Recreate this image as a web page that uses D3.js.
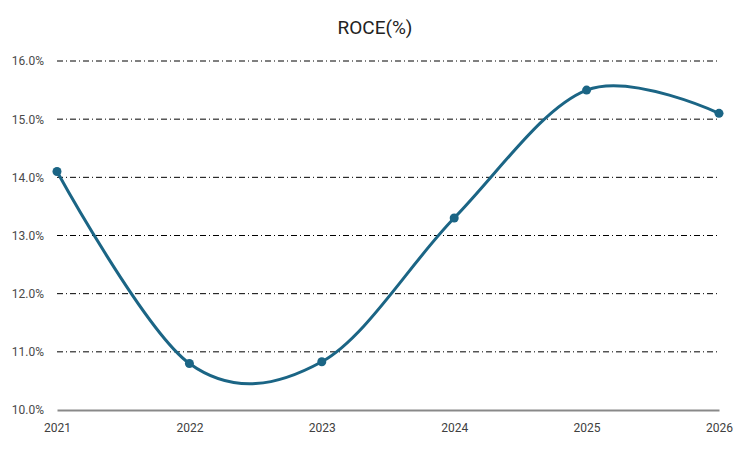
<!DOCTYPE html>
<html>
<head>
<meta charset="utf-8">
<script src="https://cdn.jsdelivr.net/npm/d3@7"></script>
<style>
  body { margin: 0; background: #fff; }
  svg { font-family: "Roboto", sans-serif; }
</style>
</head>
<body>
<svg id="chart"></svg>
<script>
// chart data
const years = ["2021", "2022", "2023", "2024", "2025", "2026"];
const roce = [14.1, 10.8, 10.83, 13.3, 15.5, 15.1];
const yTicks = [10, 11, 12, 13, 14, 15, 16];

const width = 750, height = 450;
const margin = {top: 61, right: 31, bottom: 40, left: 57};
const innerW = width - margin.left - margin.right;
const innerH = height - margin.top - margin.bottom;

const svg = d3.select('#chart')
    .attr('width', width)
    .attr('height', height);

const chart = svg.append('g')
    .attr('transform', `translate(${margin.left}, ${margin.top})`);

const xScale = d3.scalePoint()
    .domain(years)
    .range([0, innerW]);

const yScale = d3.scaleLinear()
    .domain([10, 16])
    .range([innerH, 0]);

// title
svg.append('text')
    .attr('x', 375)
    .attr('y', 34)
    .attr('text-anchor', 'middle')
    .attr('font-size', 19)
    .attr('fill', '#222')
    .text('ROCE(%)');

// gridlines (dash-dot)
chart.selectAll('.grid')
    .data(yTicks.filter(d => d > 10))
    .join('line')
    .attr('class', 'grid')
    .attr('x1', 0)
    .attr('x2', innerW)
    .attr('y1', d => yScale(d))
    .attr('y2', d => yScale(d))
    .attr('stroke', '#000')
    .attr('stroke-width', 1)
    .attr('stroke-dasharray', '6,3,1,3');

// y axis labels
const yAxis = chart.append('g')
    .call(d3.axisLeft(yScale).tickValues(yTicks).tickFormat(d => d.toFixed(1) + '%').tickSize(0).tickPadding(13));
yAxis.select('.domain').remove();
yAxis.selectAll('text').attr('font-size', 12).attr('fill', '#4a4a4a')
    .style('font-family', '"Roboto", sans-serif');

// x axis
const xAxis = chart.append('g')
    .attr('transform', `translate(0, ${innerH})`)
    .call(d3.axisBottom(xScale).tickSize(0).tickPadding(13));
xAxis.select('.domain').attr('stroke', '#898989').attr('stroke-width', 2);
xAxis.selectAll('text').attr('font-size', 12).attr('fill', '#404040')
    .style('font-family', '"Roboto", sans-serif');

// smoothed line
const line = d3.line()
    .x((d, i) => xScale(years[i]))
    .y(d => yScale(d))
    .curve(d3.curveCardinal.tension(0));

chart.append('path')
    .datum(roce)
    .attr('fill', 'none')
    .attr('stroke', '#1b6585')
    .attr('stroke-width', 3)
    .attr('stroke-linecap', 'round')
    .attr('d', line);

chart.selectAll('.dot')
    .data(roce)
    .join('circle')
    .attr('class', 'dot')
    .attr('cx', (d, i) => xScale(years[i]))
    .attr('cy', d => yScale(d))
    .attr('r', 4.5)
    .attr('fill', '#1b6585');
</script>
</body>
</html>
